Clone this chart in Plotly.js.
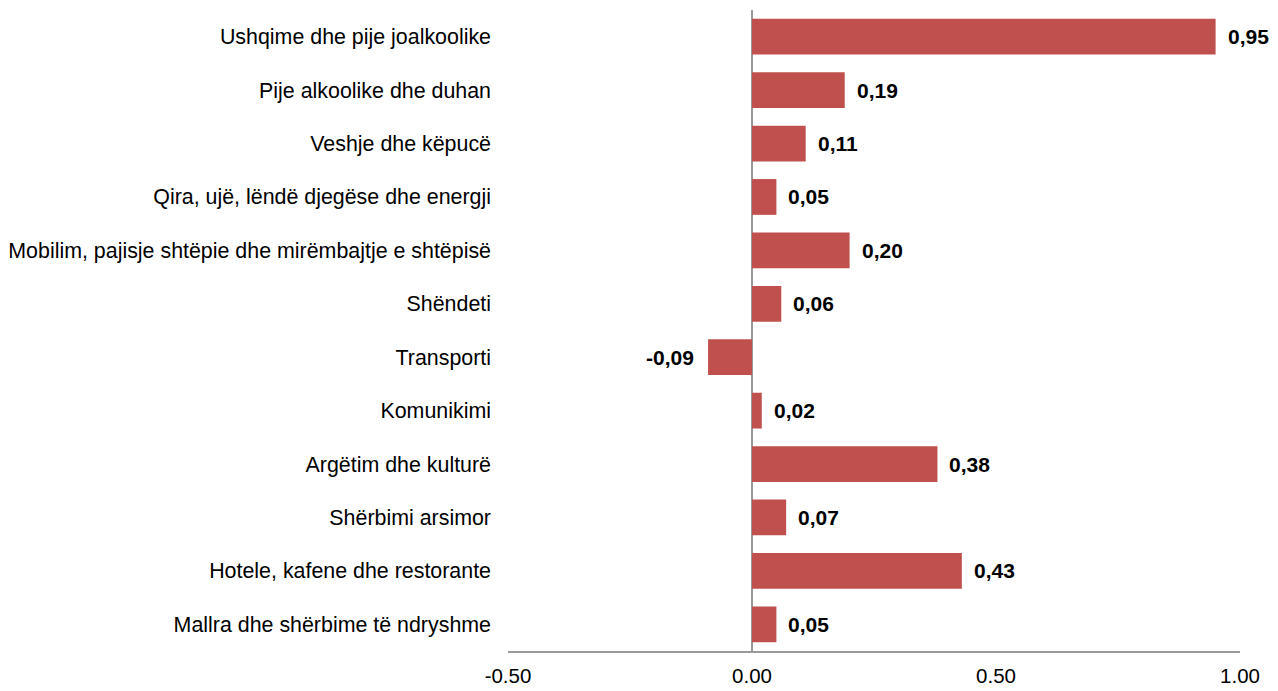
<!DOCTYPE html>
<html>
<head>
<meta charset="utf-8">
<script src="https://cdn.plot.ly/plotly-3.0.1.min.js"></script>
<style>html,body{margin:0;padding:0;background:#fff;}#chart{width:1278px;height:691px;}</style>
</head>
<body>
<div id="chart"></div>
<script>
const categories = [
  "Ushqime dhe pije joalkoolike",
  "Pije alkoolike dhe duhan",
  "Veshje dhe këpucë",
  "Qira, ujë, lëndë djegëse dhe energji",
  "Mobilim, pajisje shtëpie dhe mirëmbajtje e shtëpisë",
  "Shëndeti",
  "Transporti",
  "Komunikimi",
  "Argëtim dhe kulturë",
  "Shërbimi arsimor",
  "Hotele, kafene dhe restorante",
  "Mallra dhe shërbime të ndryshme"
];
const values = [0.95, 0.19, 0.11, 0.05, 0.20, 0.06, -0.09, 0.02, 0.38, 0.07, 0.43, 0.05];
const tickVals = [-0.5, 0, 0.5, 1.0];
const tickLabels = ["-0.50", "0.00", "0.50", "1.00"];

const fmt = v => v.toFixed(2).replace('.', ',');

const trace = {
  type: 'bar',
  orientation: 'h',
  y: categories,
  x: values,
  marker: {color: '#C0504D'},
  width: 0.67,
  hoverinfo: 'none'
};

const annotations = values.map((v, i) => ({
  x: v,
  y: categories[i],
  xref: 'x',
  yref: 'y',
  text: '<b>' + fmt(v) + '</b>',
  showarrow: false,
  xanchor: v >= 0 ? 'left' : 'right',
  xshift: v >= 0 ? 10 : -12,
  font: {family: 'Liberation Sans, Arial, sans-serif', size: 21, color: '#000'}
}));

const layout = {
  width: 1278,
  height: 691,
  margin: {l: 508, r: 38, t: 10, b: 40},
  paper_bgcolor: '#fff',
  plot_bgcolor: '#fff',
  showlegend: false,
  font: {family: 'Liberation Sans, Arial, sans-serif', color: '#000'},
  xaxis: {
    range: [-0.5, 1.0],
    tickvals: tickVals,
    ticktext: tickLabels,
    showgrid: false,
    zeroline: true,
    zerolinecolor: '#999999',
    zerolinewidth: 2,
    showline: true,
    linecolor: '#999999',
    linewidth: 2,
    ticks: '',
    ticklabelstandoff: 5,
    tickfont: {size: 20.5, color: '#000'},
    fixedrange: true
  },
  yaxis: {
    autorange: 'reversed',
    showgrid: false,
    zeroline: false,
    showline: false,
    ticks: '',
    ticklabelstandoff: 16,
    tickfont: {size: 21.4, color: '#000'},
    fixedrange: true
  },
  annotations: annotations
};

Plotly.newPlot('chart', [trace], layout, {displayModeBar: false, staticPlot: true});
</script>
</body>
</html>
